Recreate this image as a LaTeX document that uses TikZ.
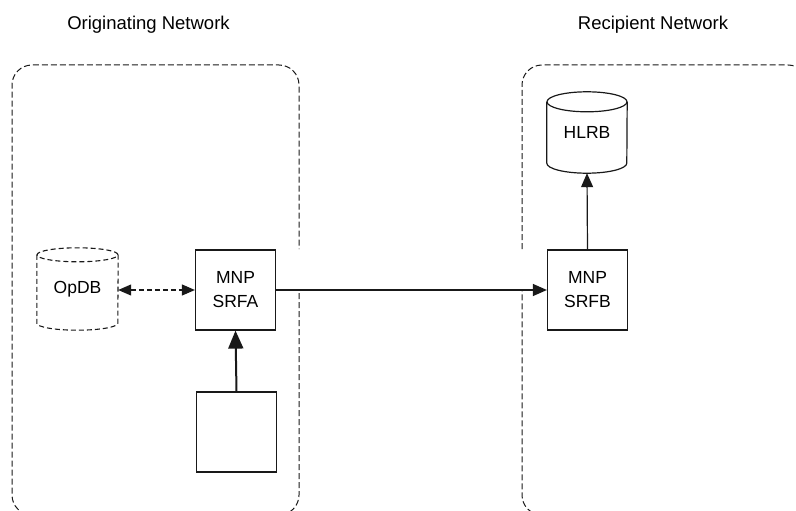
\documentclass[tikz,border=0pt]{standalone}
\usepackage{fontspec}
\setmainfont{Liberation Sans}
\usetikzlibrary{arrows.meta,calc}

\tikzset{
  ink/.style={draw=black!90},
  region/.style={ink, line width=1pt, dash pattern=on 6pt off 3pt, rounded corners=20pt},
  boxnode/.style={ink, line width=1.2pt, minimum width=80pt, minimum height=80pt, inner sep=0pt,
    align=center, font=\fontsize{17.5}{24}\selectfont},
  cylnode/.style={minimum width=81pt, minimum height=82pt, inner sep=0pt,
    font=\fontsize{17.5}{24}\selectfont},
  title/.style={font=\fontsize{18.5}{22}\selectfont},
  link/.style={ink, line width=1.2pt, -{Triangle[length=14pt,width=12pt]}},
}

\begin{document}
\begin{tikzpicture}[x=1pt,y=1pt]
\useasboundingbox (0,0) rectangle (796,-511);

% network headings
\node[title] (orig) at (148.5,-24.5) {Originating Network};
\node[title] (recip) at (653,-24.5) {Recipient Network};

% network regions, each open where the trunk crosses
\begin{scope}
\clip (0,0) rectangle (796,-511);
\draw[region] (299,-293) -- (299,-515) -- (12,-515) -- (12,-65) -- (299,-65) -- (299,-249);
\draw[region] (522,-249) -- (522,-65) -- (808,-65) -- (808,-515) -- (522,-515) -- (522,-290);
\end{scope}

% switching functions
\node[boxnode] (srfa) at (235.5,-290) {MNP\\SRFA};
\node[boxnode] (srfb) at (587.5,-290) {MNP\\SRFB};
\node[boxnode] (src) at (236.5,-432) {};

% databases
\node[cylnode] (opdb) at (77.5,-289) {\raisebox{-4pt}{OpDB}};
\draw[ink, line width=1.1pt, dash pattern=on 5pt off 3pt]
  ([yshift=-7pt]opdb.north west) -- ([yshift=7pt]opdb.south west)
  arc[start angle=180, end angle=360, x radius=40.5pt, y radius=7pt]
  -- ([yshift=-7pt]opdb.north east);
\draw[ink, line width=1.1pt, dash pattern=on 5pt off 3pt]
  ([yshift=-7pt]opdb.north) ellipse[x radius=40.5pt, y radius=7pt];

\node[cylnode, minimum width=80pt, minimum height=81pt] (hlrb) at (587,-132.5) {\raisebox{-8pt}{HLRB}};
\draw[ink, line width=1.2pt]
  ([yshift=-10pt]hlrb.north west) -- ([yshift=10pt]hlrb.south west)
  arc[start angle=180, end angle=360, x radius=40pt, y radius=10pt]
  -- ([yshift=-10pt]hlrb.north east);
\draw[ink, line width=1.2pt]
  ([yshift=-10pt]hlrb.north) ellipse[x radius=40pt, y radius=10pt];

% connectors
\draw[ink, line width=1.1pt, dash pattern=on 5pt off 3pt,
  {Triangle[length=13pt,width=11pt]}-{Triangle[length=13pt,width=11pt]}]
  (opdb.east |- srfa.west) -- (srfa.west);
\draw[link] (srfa.east) -- (srfb.west);
\draw[link] (srfb.north) -- (hlrb.south);
\draw[ink, line width=2pt, -{Triangle[length=18pt,width=15pt]}] (src.north) -- (srfa.south);
\end{tikzpicture}
\end{document}
